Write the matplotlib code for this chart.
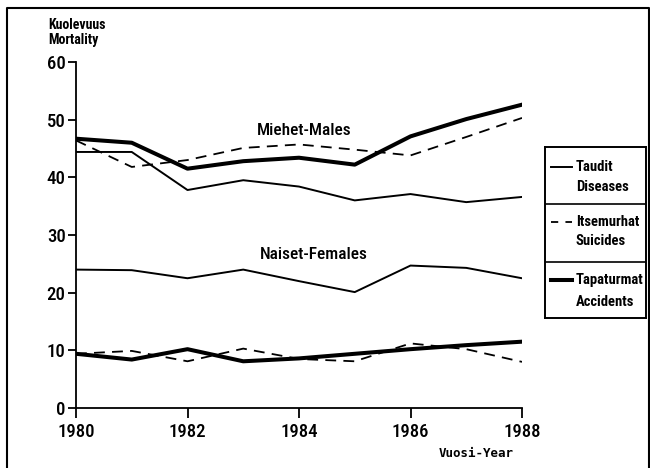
import matplotlib
matplotlib.use('Agg')
import matplotlib.pyplot as plt
from matplotlib.lines import Line2D

NARROW = ['Roboto Condensed', 'PT Sans Narrow', 'DejaVu Sans']
plt.rcParams['font.family'] = NARROW

# data
years = [1980, 1981, 1982, 1983, 1984, 1985, 1986, 1987, 1988]
males_diseases = [44.4, 44.4, 37.8, 39.5, 38.4, 36.0, 37.1, 35.7, 36.6]
males_suicides = [46.4, 41.8, 43.0, 45.1, 45.7, 44.8, 43.8, 47.0, 50.3]
males_accidents = [46.7, 46.0, 41.5, 42.8, 43.4, 42.2, 47.1, 50.1, 52.6]
females_diseases = [24.0, 23.9, 22.5, 24.0, 22.0, 20.1, 24.7, 24.3, 22.5]
females_suicides = [9.4, 9.9, 8.1, 10.3, 8.5, 8.1, 11.2, 10.2, 8.0]
females_accidents = [9.4, 8.4, 10.2, 8.1, 8.6, 9.4, 10.2, 10.9, 11.5]

x_ticks = [1980, 1982, 1984, 1986, 1988]
y_ticks = [0, 10, 20, 30, 40, 50, 60]

legend_labels = [('Taudit', 'Diseases'), ('Itsemurhat', 'Suicides'),
                 ('Tapaturmat', 'Accidents')]

W, H = 650, 468
fig = plt.figure(figsize=(W / 100, H / 100), dpi=100)

thin = dict(color='black', lw=1.4)
dash = dict(color='black', lw=1.3, dashes=(6, 4))
thick = dict(color='black', lw=2.9)

ax = fig.add_axes([76 / W, 1 - 408 / H, (522 - 76) / W, (408 - 62) / H])
ax.plot(years, males_diseases, **thin)
ax.plot(years, males_suicides, **dash)
ax.plot(years, males_accidents, **thick)
ax.plot(years, females_diseases, **thin)
ax.plot(years, females_suicides, **dash)
ax.plot(years, females_accidents, **thick)

ax.set_xlim(1980, 1988)
ax.set_ylim(0, 60)
ax.set_xticks(x_ticks)
ax.set_yticks(y_ticks)
for s in ['top', 'right']:
    ax.spines[s].set_visible(False)
for s in ['left', 'bottom']:
    ax.spines[s].set_linewidth(1.3)
ax.tick_params(axis='x', direction='out', length=7, width=1.3, pad=4, labelsize=13.5)
ax.tick_params(axis='y', direction='out', length=6, width=1.3, pad=1.5, labelsize=13.5)
for lab in ax.get_xticklabels() + ax.get_yticklabels():
    lab.set_fontweight('medium')

ax.text(1984.1, 48.1, 'Miehet-Males', ha='center', va='center', fontsize=12.5,
        fontweight='medium')
ax.text(1984.26, 26.6, 'Naiset-Females', ha='center', va='center', fontsize=12.5,
        fontweight='medium')

fig.text(48 / W, 1 - 18 / H, 'Kuolevuus\nMortality', ha='left', va='top',
         fontsize=10, fontweight='bold', linespacing=1.1)
fig.text(514 / W, 1 - 457 / H, 'Vuosi-Year', ha='right', va='baseline',
         family='DejaVu Sans Mono', fontweight='bold', fontsize=9)

# boxed legend with one cell per cause
lg = fig.add_axes([545 / W, 1 - 318 / H, (646 - 545) / W, (318 - 147) / H])
lg.set_xlim(0, 101)
lg.set_ylim(171, 0)
lg.set_xticks([])
lg.set_yticks([])
for s in lg.spines.values():
    s.set_linewidth(1.4)
for yd in [57, 115]:
    lg.axhline(yd, color='black', lw=1.2)
styles = [thin, dash, thick]
rows = [(20, 40), (75, 94), (133, 155)]
for st, (y1, y2), (fi, en) in zip(styles, rows, legend_labels):
    kw = dict(st)
    if 'dashes' in kw:
        kw['dashes'] = (4, 4)
    lg.plot([6, 27], [y1, y1], **kw)
    lg.text(31, y1, fi, va='center', ha='left', fontsize=10.5, fontweight='bold')
    lg.text(31, y2, en, va='center', ha='left', fontsize=10.5, fontweight='bold')

# page frame (left, top, right)
frame = Line2D([7 / W, 7 / W, 649 / W, 649 / W], [0, 1 - 8 / H, 1 - 8 / H, 0],
               transform=fig.transFigure, color='black', lw=1.5)
fig.add_artist(frame)

fig.savefig('out.png', dpi=100)
